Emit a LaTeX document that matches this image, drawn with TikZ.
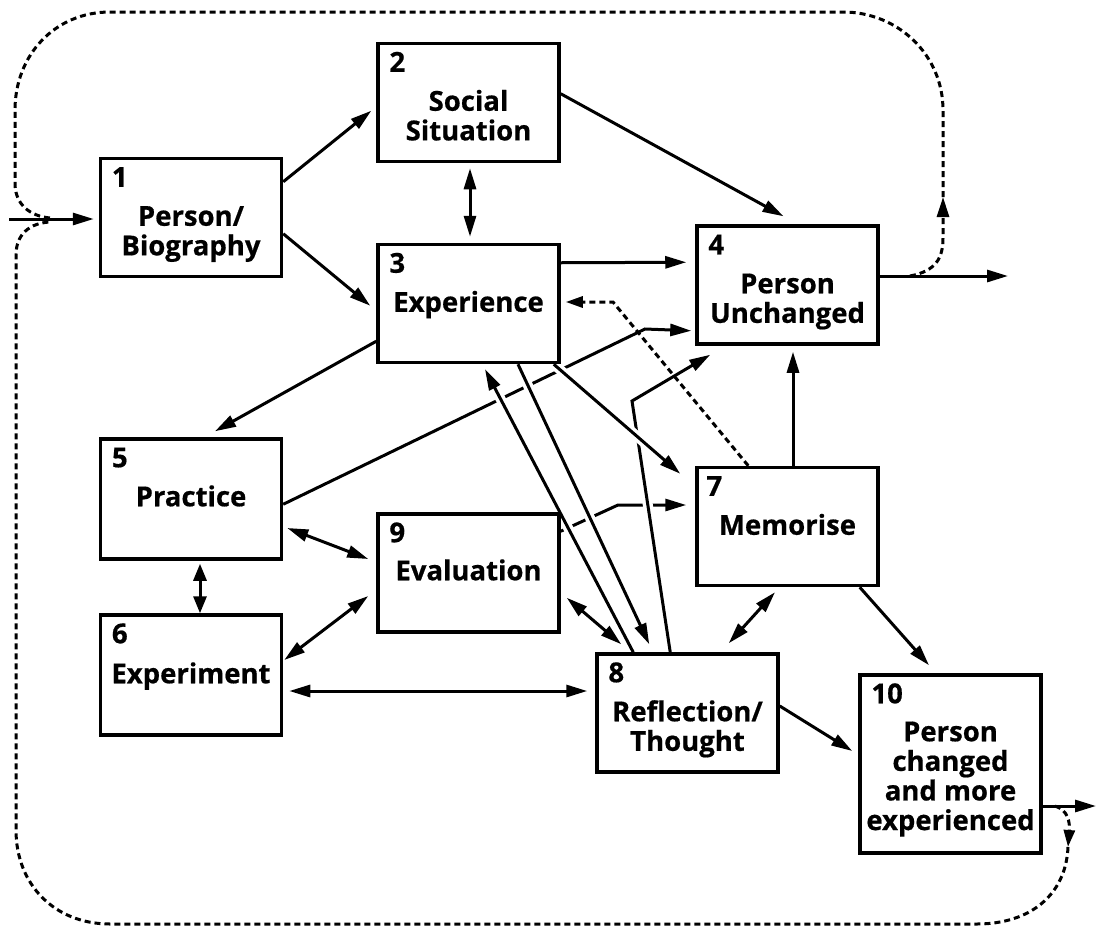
\documentclass[tikz,border=0pt]{standalone}
\usepackage{fontspec}
\setmainfont{Open Sans}[BoldFeatures={FakeBold=0.6}]
\usetikzlibrary{arrows.meta,calc}
\pgfdeclarelayer{bg}
\pgfsetlayers{bg,main}
\newcommand{\fsz}{\fontsize{27.5pt}{29pt}\selectfont\bfseries}
\newcommand{\mylines}[1]{\begin{tabular}[t]{@{}c@{}}#1\end{tabular}}
\begin{document}
\begin{tikzpicture}[x=1pt,y=-1pt,
  box/.style={draw,line width=3.5pt,minimum width=181pt,minimum height=118pt,inner sep=0pt},
  num/.style={anchor=base west,inner sep=0pt,font=\fsz},
  txt/.style={anchor=base,inner sep=0pt,font=\fsz},
  con/.style={line width=3pt},
  arr/.style={con,-{Triangle[length=21pt,width=12pt]}},
  darr/.style={con,{Triangle[length=21pt,width=12pt]}-{Triangle[length=21pt,width=12pt]}},
  sarr/.style={con,{Triangle[length=17pt,width=13pt]}-{Triangle[length=17pt,width=13pt]}},
  dot/.style={con,dash pattern=on 6pt off 4pt},
  casing/.style={draw=white,line width=10pt,shorten <=4pt,shorten >=13pt}
]
\useasboundingbox (0,0) rectangle (1096,927);

% boxes
\node[box] (b1) at (191,217.5) {};
\node[box] (b2) at (468.5,102.5) {};
\node[box] (b3) at (468.5,303.5) {};
\node[box] (b4) at (787.5,285) {};
\node[box,minimum height=120pt] (b5) at (191,499) {};
\node[box,minimum height=120pt] (b6) at (191,675) {};
\node[box] (b7) at (787.5,526.5) {};
\node[box] (b8) at (687.5,713) {};
\node[box] (b9) at (468.5,573) {};
\node[box,minimum height=178pt] (b10) at (950.5,764) {};

% numbers
\node[num] (n1) at ($(b1.north west)+(13,30)$) {1};
\node[num] (n2) at ($(b2.north west)+(13,30)$) {2};
\node[num] (n3) at ($(b3.north west)+(13,30)$) {3};
\node[num] (n4) at ($(b4.north west)+(13,30)$) {4};
\node[num] (n5) at ($(b5.north west)+(13,30)$) {5};
\node[num] (n6) at ($(b6.north west)+(13,30)$) {6};
\node[num] (n7) at ($(b7.north west)+(11,30)$) {7};
\node[num] (n8) at ($(b8.north west)+(13,30)$) {8};
\node[num] (n9) at ($(b9.north west)+(13,30)$) {9};
\node[num] (n10) at ($(b10.north west)+(13,30)$) {10};

% texts
\node[txt] (t1) at ($(b1.north)+(0,69)$) {\mylines{Person/\\Biography}};
\node[txt] (t2) at ($(b2.north)+(0,69)$) {\mylines{Social\\Situation}};
\node[txt] (t3) at ($(b3.north)+(0,69)$) {Experience};
\node[txt] (t4) at ($(b4.north)+(0,69)$) {\mylines{Person\\Unchanged}};
\node[txt] (t5) at ($(b5.north)+(0,69)$) {Practice};
\node[txt] (t6) at ($(b6.north)+(0,70)$) {Experiment};
\node[txt] (t7) at ($(b7.north)+(0,69)$) {Memorise};
\node[txt] (t8) at ($(b8.north)+(0,69)$) {\mylines{Reflection/\\Thought}};
\node[txt] (t9) at ($(b9.north)+(0,68)$) {Evaluation};
\node[txt] (t10) at ($(b10.north)+(0,68)$) {\mylines{Person\\changed\\and more\\experienced}};

% free ends
\coordinate (inp) at (9,219);
\coordinate (o4) at (1008,276);
\coordinate (o10) at (1096,806);
\coordinate (k54) at (645,329);
\coordinate (k97) at (618,505);
\coordinate (k84) at (632,401);
\coordinate (k73) at (613,302);
\coordinate (dA) at (910,276);
\coordinate (dB) at (943,197);
\coordinate (dC) at (50,218);
\coordinate (dD) at (1055,806);
\coordinate (dE) at (1068,847);
\coordinate (dF) at (50,222);

\begin{pgfonlayer}{bg}
\draw[arr] (inp) -- ($(b1.west)+(-5,1.5)$);
\draw[arr] ($(b1.north east)+(0,25)$) -- ($(b2.north west)+(-5,69)$);
\draw[arr] ($(b1.north east)+(0,77)$) -- ($(b3.north west)+(-6,63)$);
\draw[darr] ($(b2.south)+(1.5,5)$) -- ($(b3.north)+(1.5,-6)$);
\draw[arr] ($(b2.north east)+(0,52)$) -- ($(b4.north)+(-4,-8)$);
\draw[arr] ($(b3.north east)+(0,20)$) -- ($(b4.north west)+(-9,38)$);
\draw[arr] ($(b3.south west)+(0,-23)$) -- ($(b5.north)+(24,-6)$);
\draw[arr] ($(b7.north)+(5.5,0)$) -- ($(b4.south)+(5.5,6)$);
% lower layer lines
\draw[arr] ($(b5.north east)+(0,67)$) -- (k54) -- ($(b4.south west)+(-4,-15)$);
\draw[arr] ($(b9.north east)+(0,19)$) -- (k97) -- ($(b7.west)+(-9,-21.5)$);
% 8 -> 4
\draw[casing] ($(b8.north west)+(75,0)$) -- (k84) -- ($(b4.south west)+(15,9)$);
\draw[arr] ($(b8.north west)+(75,0)$) -- (k84) -- ($(b4.south west)+(15,9)$);
% 8 -> 3
\draw[casing] ($(b8.north west)+(38,0)$) -- ($(b3.south)+(16.5,5)$);
\draw[arr] ($(b8.north west)+(38,0)$) -- ($(b3.south)+(16.5,5)$);
% 3 -> 8
\draw[casing] ($(b3.south)+(49.5,0)$) -- ($(b8.north west)+(54,-8)$);
\draw[arr] ($(b3.south)+(49.5,0)$) -- ($(b8.north west)+(54,-8)$);
% 3 -> 7
\draw[casing] ($(b3.south east)+(-7,0)$) -- ($(b7.north west)+(-15,8)$);
\draw[arr] ($(b3.south east)+(-7,0)$) -- ($(b7.north west)+(-15,8)$);
% double arrows
\draw[darr] ($(b5.east)+(4,29)$) -- ($(b9.west)+(-8,-14)$);
\draw[sarr] ($(b5.south)+(9,3)$) -- ($(b6.north)+(9,0)$);
\draw[darr] ($(b6.east)+(1,-15)$) -- ($(b9.west)+(-8,23)$);
\draw[darr] ($(b6.east)+(6,16)$) -- ($(b8.west)+(-8,-22)$);
\draw[darr] ($(b9.south east)+(6,-36)$) -- ($(b8.north west)+(26,-8)$);
\draw[darr] ($(b7.south)+(-12.5,5)$) -- ($(b8.north east)+(-51,-9)$);
\draw[arr] ($(b7.south east)+(-20,0)$) -- ($(b10.north)+(-21.5,-8)$);
\draw[arr] ($(b8.east)+(0,-7)$) -- ($(b10.west)+(-6,-13)$);
% outputs
\draw[arr] ($(b4.east)+(0,-9)$) -- (o4);
\draw[arr] ($(b10.east)+(0,42)$) -- (o10);
% dotted 7 -> 3
\draw[dot,-{Triangle[length=17pt,width=11pt]}] ($(b7.north west)+(53,0)$) -- (k73) -- ($(b3.east)+(5,-1.5)$);
% dotted loops
\draw[dot,-{Triangle[length=20pt,width=12pt]}] (dA) .. controls (936,271) and (943,258) .. (943,238) -- (dB);
\draw[dot] (dB) -- (943,110) .. controls (943,55) and (898,12) .. (843,12) -- (110,12)
  .. controls (55,12) and (15,55) .. (15,110) -- (15,185) .. controls (16,205) and (30,216) .. (dC);
\draw[dot,-{Triangle[length=17pt,width=11pt]}] (dD) .. controls (1068,810) and (1070,822) .. (dE);
\draw[dot] (dE) .. controls (1066,895) and (1030,924) .. (977,924) -- (110,924)
  .. controls (55,924) and (16,885) .. (16,830) -- (16,255) .. controls (16,234) and (30,223) .. (dF);
\end{pgfonlayer}
\end{tikzpicture}
\end{document}
